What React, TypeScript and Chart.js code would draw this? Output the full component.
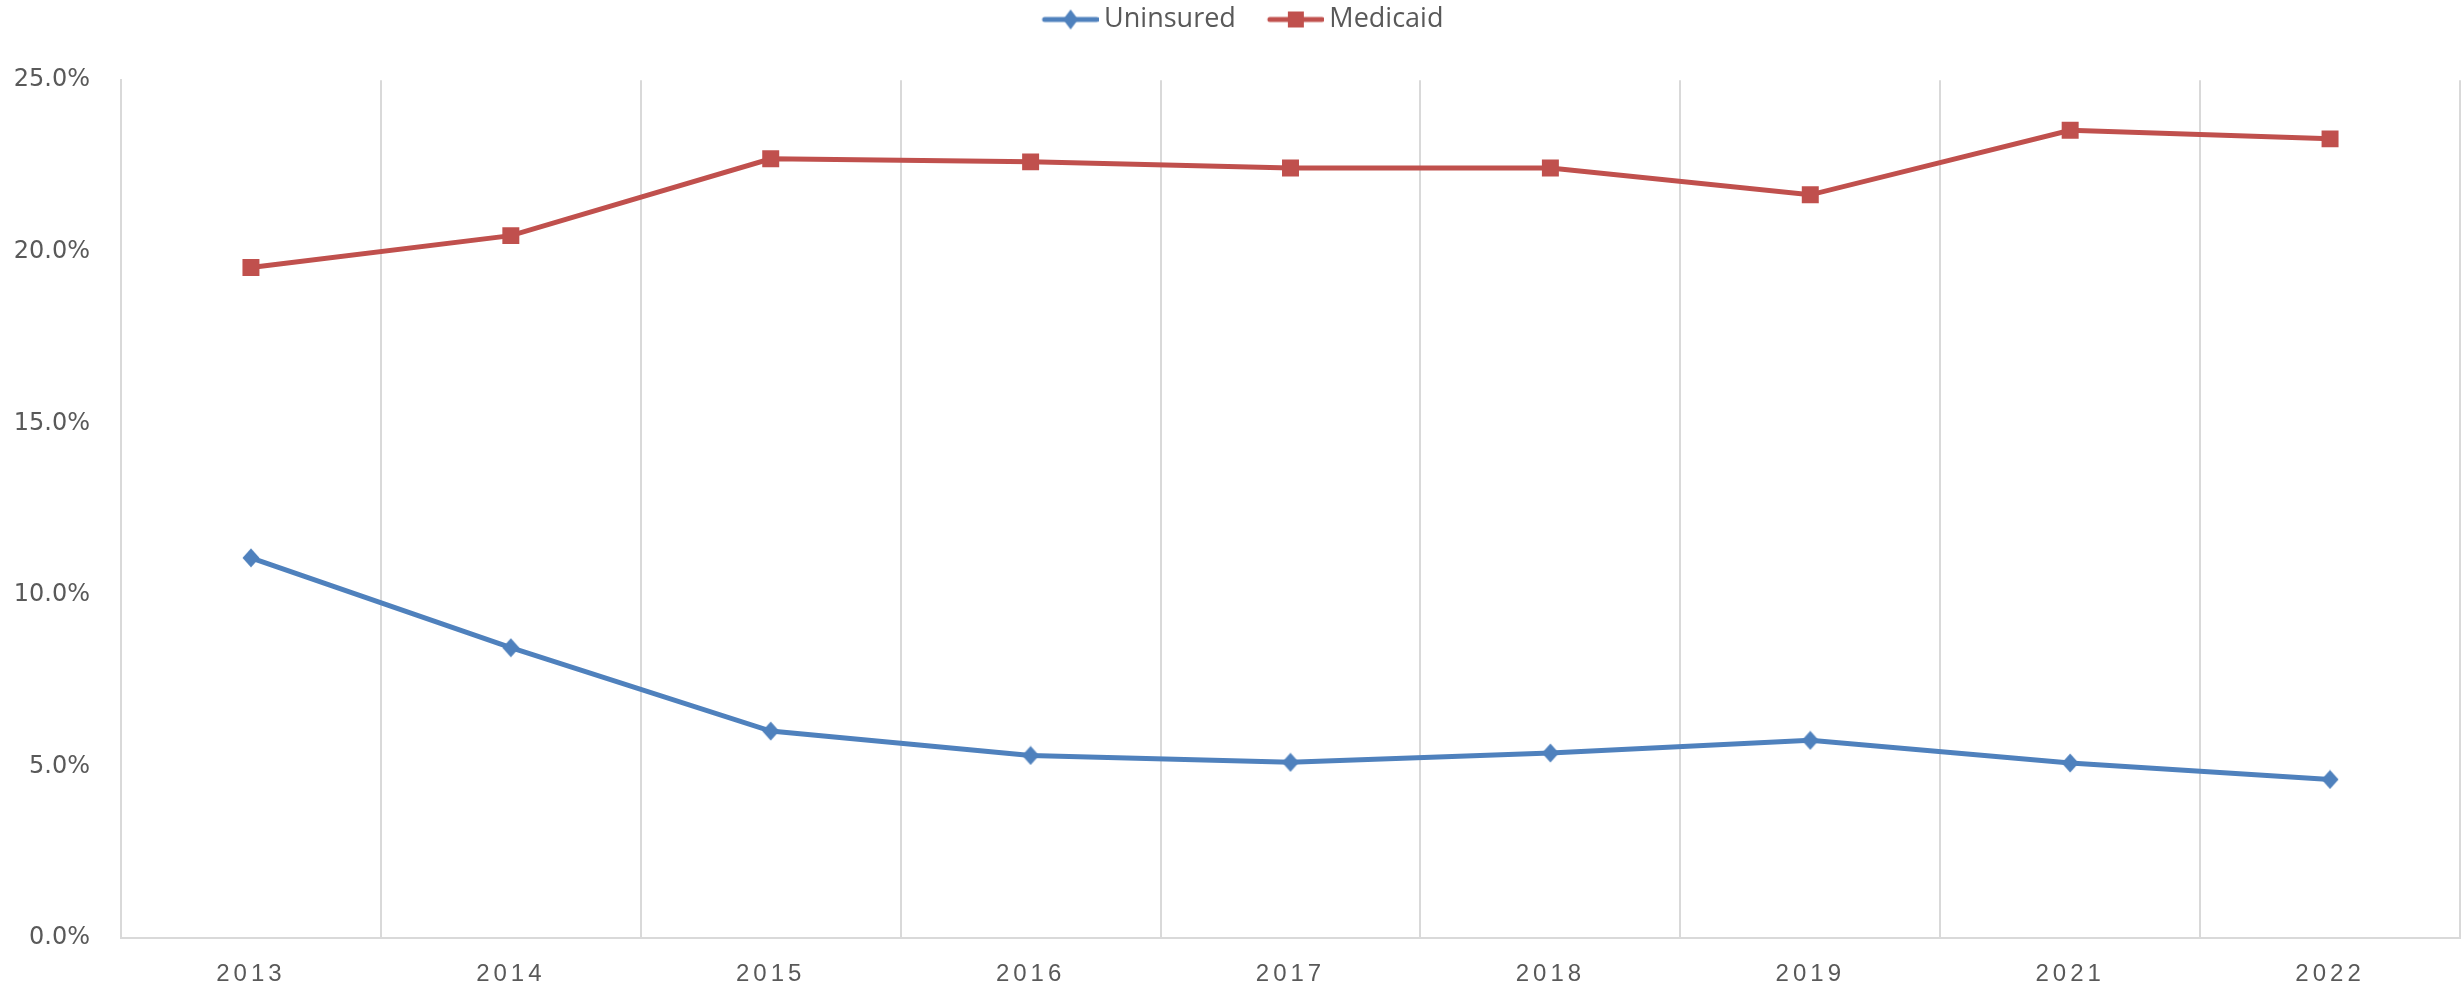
import React, { useEffect, useRef } from "react";
import { Chart, registerables } from "chart.js";

Chart.register(...registerables);

const years = ["2013", "2014", "2015", "2016", "2017", "2018", "2019", "2021", "2022"];
const uninsured = [11.08, 8.46, 6.03, 5.32, 5.12, 5.39, 5.76, 5.1, 4.62];
const medicaid = [19.54, 20.47, 22.71, 22.62, 22.44, 22.44, 21.66, 23.54, 23.29];
const seriesNames = ["Uninsured", "Medicaid"];
const seriesColors = ["#4F81BD", "#C0504D"];
const yTicks = { min: 0, max: 25, step: 5 };

function drawDiamond(g: CanvasRenderingContext2D, cx: number, cy: number, hw: number, hh: number) {
  g.beginPath();
  g.moveTo(cx, cy - hh);
  g.lineTo(cx + hw, cy);
  g.lineTo(cx, cy + hh);
  g.lineTo(cx - hw, cy);
  g.closePath();
  g.fill();
}

function diamondMarker(color: string) {
  const c = document.createElement("canvas");
  c.width = 18;
  c.height = 20;
  const g = c.getContext("2d")!;
  g.fillStyle = color;
  drawDiamond(g, 9, 10, 8.5, 9.5);
  return c;
}

function legendIcon(color: string, kind: "diamond" | "square") {
  const c = document.createElement("canvas");
  c.width = 90;
  c.height = 24;
  const g = c.getContext("2d")!;
  g.strokeStyle = color;
  g.lineWidth = 5;
  g.lineCap = "round";
  g.beginPath();
  g.moveTo(36, 12);
  g.lineTo(88, 12);
  g.stroke();
  g.fillStyle = color;
  const cx = 62;
  if (kind === "diamond") {
    drawDiamond(g, cx, 12, 7.5, 10);
  } else {
    g.fillRect(cx - 8, 4, 16, 16);
  }
  return c;
}

export default function App() {
  const ref = useRef<HTMLCanvasElement>(null);
  useEffect(() => {
    document.body.style.margin = "0";
    const icons = [legendIcon(seriesColors[0], "diamond"), legendIcon(seriesColors[1], "square")];
    const diamond = diamondMarker(seriesColors[0]);
    const spacingPlugin = {
      id: "xLetterSpacing",
      afterLayout(chart: any) {
        const xs: any = chart.scales.x;
        if (xs && !xs.__ls) {
          const orig = xs.drawLabels.bind(xs);
          xs.drawLabels = (a: any) => {
            const c: any = chart.ctx;
            c.save();
            c.letterSpacing = "4px";
            orig(a);
            c.restore();
          };
          xs.__ls = true;
        }
      },
    };
    const chart = new Chart(ref.current!, {
      type: "line",
      data: {
        labels: years,
        datasets: [
          {
            label: seriesNames[0],
            data: uninsured,
            borderColor: seriesColors[0],
            backgroundColor: seriesColors[0],
            borderWidth: 5,
            pointStyle: diamond as any,
            pointRadius: 10,
            pointBorderWidth: 0,
            tension: 0,
          },
          {
            label: seriesNames[1],
            data: medicaid,
            borderColor: seriesColors[1],
            backgroundColor: seriesColors[1],
            borderWidth: 5,
            pointStyle: "rect",
            pointRadius: 12,
            pointBorderWidth: 0,
            tension: 0,
          },
        ],
      },
      options: {
        responsive: false,
        animation: false,
        layout: { autoPadding: false, padding: { left: 0, right: 4, top: 0, bottom: 0 } },
        plugins: {
          tooltip: { enabled: false },
          title: {
            display: true,
            text: "",
            position: "top",
            weight: 500,
            padding: 0,
            font: { size: 31, lineHeight: 1.2 },
          },
          legend: {
            position: "top",
            labels: {
              usePointStyle: true,
              pointStyleWidth: 74,
              padding: 6,
              color: "#595959",
              font: { family: "'Open Sans'", size: 27 },
              generateLabels: () =>
                seriesNames.map((n, i) => ({
                  text: n,
                  pointStyle: icons[i] as any,
                  fillStyle: "rgba(0,0,0,0)",
                  strokeStyle: "rgba(0,0,0,0)",
                  lineWidth: 0,
                  hidden: false,
                  datasetIndex: i,
                  fontColor: "#595959",
                })),
            },
          },
        },
        scales: {
          x: {
            offset: true,
            grid: { display: true, offset: true, color: "#D9D9D9", lineWidth: 2, drawTicks: false },
            border: { display: true, color: "#D9D9D9", width: 2 },
            ticks: {
              color: "#595959",
              font: { family: "'Liberation Sans'", size: 24 },
              padding: 22,
              maxRotation: 0,
            },
            afterFit: (s: any) => {
              s.height = 52;
              s.paddingLeft = 0;
              s.paddingRight = 0;
            },
          },
          y: {
            min: yTicks.min,
            max: yTicks.max,
            grid: { display: false, drawTicks: false },
            border: { display: true, color: "#D9D9D9", width: 2 },
            ticks: {
              stepSize: yTicks.step,
              color: "#595959",
              font: { family: "'DejaVu Sans'", size: 24 },
              padding: 31,
              callback: (v: any) => Number(v).toFixed(1) + "%",
            },
            afterFit: (s: any) => {
              s.width = 121;
            },
          },
        },
      },
      plugins: [spacingPlugin],
    });
    return () => chart.destroy();
  }, []);
  return <canvas ref={ref} width={2464} height={990} style={{ display: "block", width: 2464, height: 990 }} />;
}
